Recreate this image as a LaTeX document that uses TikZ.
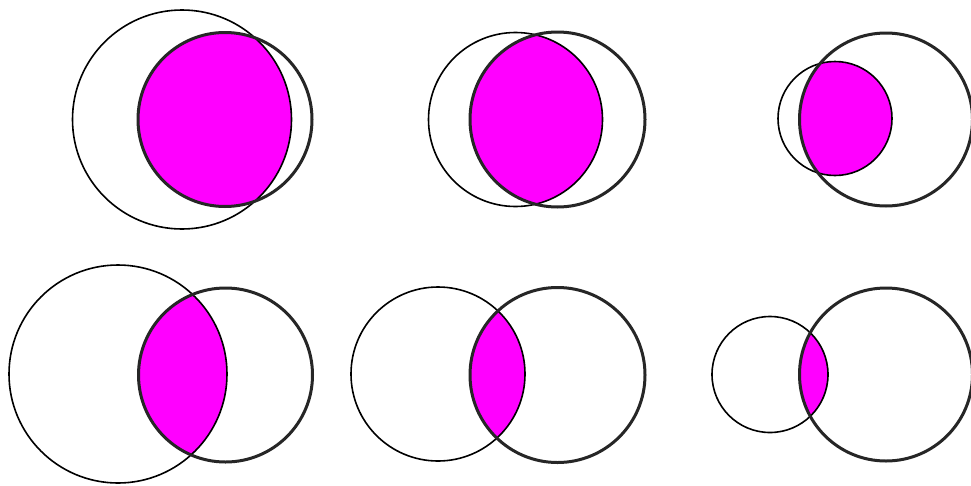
\documentclass[tikz,border=0pt]{standalone}
\begin{document}
\begin{tikzpicture}[x=1pt,y=-1pt,
  thincirc/.style={draw=black,line width=1.6pt},
  thickcirc/.style={draw=black!85,line width=3pt},
  lens/.style={fill={rgb,255:red,255;green,0;blue,255}}]
\useasboundingbox (0,0) rectangle (971,485);
\fill[white] (0,0) rectangle (971,485);
% pairs: thin circle (c1,r1), thick circle (c2,r2)
\foreach \ax/\ay/\ar/\bx/\by/\br in {
  182/119.5/109.5/225/119.5/87,
  515.5/119.5/87/557.5/119.5/87.5,
  835/118.5/57/886/119.5/86.5,
  118/374/109/225.5/375/87,
  438/374/87/557.5/375/87.5,
  770/374.5/58/886/374.5/86.5}{
  \begin{scope}
    \clip (\ax,\ay) circle[radius=\ar];
    \fill[lens] (\bx,\by) circle[radius=\br];
  \end{scope}
  \draw[thincirc] (\ax,\ay) circle[radius=\ar];
  \draw[thickcirc] (\bx,\by) circle[radius=\br];
}
\end{tikzpicture}
\end{document}
